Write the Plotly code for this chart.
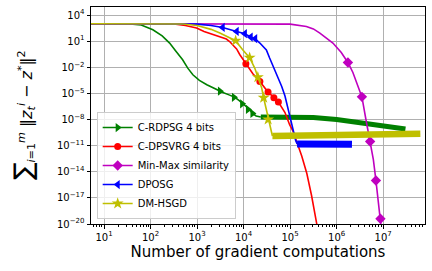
import numpy as np
import plotly.graph_objects as go

# ---- data (log10 of x = gradient computations, log10 of y = error) ----
series_names = ["C-RDPSG 4 bits", "C-DPSVRG 4 bits", "Min-Max similarity", "DPOSG", "DM-HSGD"]

# C-RDPSG 4 bits
green_lx = [0.6, 1.5, 1.8, 2.05, 2.25, 2.41, 2.55, 2.69, 2.8, 2.91, 3.05, 3.21, 3.4, 3.53, 3.7, 3.81,
            3.9, 3.98, 4.06, 4.13, 4.19, 4.27, 4.37]
green_ly = [3.0, 2.99, 2.85, 2.31, 1.6, 0.78, -0.2, -1.14, -2.1, -2.86, -3.5, -4.01, -4.5, -4.85, -5.2, -5.45,
            -5.8, -6.2, -6.55, -6.85, -7.3, -7.6, -7.72]
green_band_lx = [4.37, 5.0, 5.5, 6.0, 6.7, 7.1, 7.48]
green_band_ly = [-7.72, -7.74, -7.76, -8.0, -8.55, -8.8, -9.1]
green_mk_x = [3100, 6200, 9300, 12400, 15500]
green_mk_ly = [-4.75, -5.45, -6.2, -6.85, -7.3]

# C-DPSVRG 4 bits
red_lx = [0.6, 2.5, 2.75, 2.99, 3.15, 3.34, 3.5, 3.63, 3.7, 3.77, 3.85, 3.92, 4.05, 4.2, 4.35, 4.526,
          4.651, 4.748, 4.89, 4.99, 5.06, 5.15, 5.25, 5.36, 5.46, 5.57, 5.62]
red_ly = [3.0, 2.97, 2.8, 2.5, 2.1, 1.74, 1.5, 1.24, 0.95, 0.59, 0.1, -0.56, -1.6, -2.75, -3.63, -4.85,
          -5.45, -6.0, -7.2, -8.6, -9.3, -10.7, -12.2, -14.2, -16.7, -19.9, -21.5]
red_mk_x = [11200, 22400, 33600, 44800, 56000]
red_mk_ly = [-1.6, -3.63, -4.85, -5.5, -6.0]

# Min-Max similarity
mag_lx = [0.6, 4.5, 5.0, 5.35, 5.5, 5.64, 5.8, 5.92, 6.1, 6.243, 6.35, 6.45, 6.544, 6.63, 6.72,
          6.79, 6.845, 6.89, 6.942, 6.97]
mag_ly = [3.0, 2.99, 2.95, 2.69, 2.4, 1.93, 1.3, 0.78, -0.3, -1.45, -2.6, -4.0, -5.4, -8.0, -10.53,
          -12.6, -15.0, -17.2, -19.4, -21.0]
mag_mk_x = [1.75e6, 3.5e6, 5.25e6, 7.0e6, 8.75e6]
mag_mk_ly = [-1.45, -5.4, -10.53, -15.0, -19.4]

# DPOSG
blue_lx = [0.6, 3.0, 3.3, 3.55, 3.85, 4.027, 4.152, 4.249, 4.35, 4.49, 4.56, 4.65, 4.74, 4.82, 4.89,
           4.99, 5.06, 5.12, 5.15]
blue_ly = [3.0, 2.95, 2.8, 2.57, 2.11, 1.85, 1.47, 1.28, 0.78, 0.0, -0.94, -2.0, -3.1, -4.2, -5.3,
           -7.6, -9.3, -10.4, -10.8]
blue_band_lx = [5.15, 5.6, 6.0, 6.33]
blue_band_ly = [-10.8, -10.85, -10.85, -10.85]
blue_mk_x = [3550, 7100, 10650, 14200, 17750]
blue_mk_ly = [2.57, 2.11, 1.85, 1.47, 1.28]

# DM-HSGD
yel_lx = [0.6, 2.7, 3.0, 3.3, 3.49, 3.65, 3.829, 3.98, 4.13, 4.24, 4.306, 4.39, 4.431, 4.49, 4.528,
          4.57, 4.6, 4.62]
yel_ly = [3.0, 2.97, 2.8, 2.35, 1.93, 1.55, 1.05, 0.01, -0.9, -2.09, -3.15, -4.39, -5.5, -6.89, -8.0,
          -8.8, -9.7, -9.9]
yel_band_lx = [4.62, 5.5, 6.5, 7.2, 7.8]
yel_band_ly = [-9.9, -9.85, -9.78, -9.7, -9.65]
yel_mk_x = [6750, 13500, 20250, 27000, 33750]
yel_mk_ly = [1.05, -0.9, -3.15, -5.5, -8.0]

x_tick_exp = [1, 2, 3, 4, 5, 6, 7]
x_tick_text = ["10<sup>%d</sup>" % e for e in x_tick_exp]
y_tick_exp = [4, 1, -2, -5, -8, -11, -14, -17, -20]
y_tick_text = ["10<sup>%s</sup>" % (str(e) if e >= 0 else "\u2212" + str(-e)) for e in y_tick_exp]

# ---- figure ----
colors = ["#008000", "#ff0000", "#bf00bf", "#0000ff", "#bfbf00"]
symbols = ["triangle-right", "circle", "diamond", "triangle-left", "star"]
msizes = [8, 7, 8, 8, 9]


def p(a):
    return 10 ** np.array(a, dtype=float)


fig = go.Figure()
groups = [
    (green_lx, green_ly, (green_band_lx, green_band_ly, 5), green_mk_x, green_mk_ly),
    (red_lx, red_ly, None, red_mk_x, red_mk_ly),
    (mag_lx, mag_ly, None, mag_mk_x, mag_mk_ly),
    (blue_lx, blue_ly, (blue_band_lx, blue_band_ly, 7), blue_mk_x, blue_mk_ly),
    (yel_lx, yel_ly, (yel_band_lx, yel_band_ly, 6.5), yel_mk_x, yel_mk_ly),
]
for i, (lx, ly, band, mkx, mky) in enumerate(groups):
    c = colors[i]
    fig.add_trace(go.Scatter(x=p(lx), y=p(ly), mode="lines", line=dict(color=c, width=1.6),
                             showlegend=False, hoverinfo="skip"))
    if band is not None:
        fig.add_trace(go.Scatter(x=p(band[0]), y=p(band[1]), mode="lines",
                                 line=dict(color=c, width=band[2]), showlegend=False, hoverinfo="skip"))
    fig.add_trace(go.Scatter(x=mkx, y=p(mky), mode="markers",
                             marker=dict(color=c, symbol=symbols[i], size=msizes[i], line=dict(width=0)),
                             showlegend=False))
    fig.add_trace(go.Scatter(x=[None], y=[None], mode="lines+markers", name=series_names[i],
                             line=dict(color=c, width=1.6),
                             marker=dict(color=c, symbol=symbols[i], size=msizes[i], line=dict(width=0))))

minor_x = [m * 10 ** e for e in range(0, 8) for m in range(2, 10)]

axis_common = dict(type="log", showline=True, linecolor="black", linewidth=1, mirror=True,
                   ticks="outside", ticklen=3.5, tickcolor="black", showgrid=True,
                   gridcolor="#b0b0b0", gridwidth=0.8, zeroline=False,
                   tickfont=dict(family="DejaVu Sans", size=10, color="black"))

fig.update_xaxes(range=[0.72, 7.90], tickmode="array", tickvals=p(x_tick_exp), ticktext=x_tick_text,
                 minor=dict(tickmode="array", tickvals=minor_x, ticks="outside", ticklen=2,
                            tickcolor="black", showgrid=False),
                 title=dict(text="Number of gradient computations",
                            font=dict(family="DejaVu Sans", size=15, color="black"), standoff=4),
                 **axis_common)
fig.update_yaxes(range=[-20, 4.92], tickmode="array", tickvals=p(y_tick_exp), ticktext=y_tick_text,
                 **axis_common)

fig.add_annotation(
    xref="paper", yref="paper", x=-0.205, y=0.5, xanchor="center", yanchor="middle",
    textangle=-90, showarrow=False,
    text="<span style='font-size:26px'>\u2211</span><sub><i>i</i>=1</sub><sup><i>m</i></sup> "
         "\u2016<i>z</i><sub><i>t</i></sub><sup><i>i</i></sup> \u2212 <i>z</i><sup>*</sup>\u2016<sup>2</sup>",
    font=dict(family="DejaVu Sans", size=16, color="black"))

fig.update_layout(
    width=432, height=271,
    margin=dict(l=91, r=7, t=7, b=47),
    paper_bgcolor="white", plot_bgcolor="white",
    font=dict(family="DejaVu Sans", size=10, color="black"),
    legend=dict(x=0.017, y=0.023, xanchor="left", yanchor="bottom",
                bgcolor="rgba(255,255,255,0.8)", bordercolor="#cccccc", borderwidth=1,
                font=dict(family="DejaVu Sans", size=10, color="black"),
                itemwidth=30, tracegroupgap=0),
)

fig.write_html("out.html", config={"displayModeBar": False},
               post_script="document.body.style.margin='0';document.body.style.overflow='hidden';")
